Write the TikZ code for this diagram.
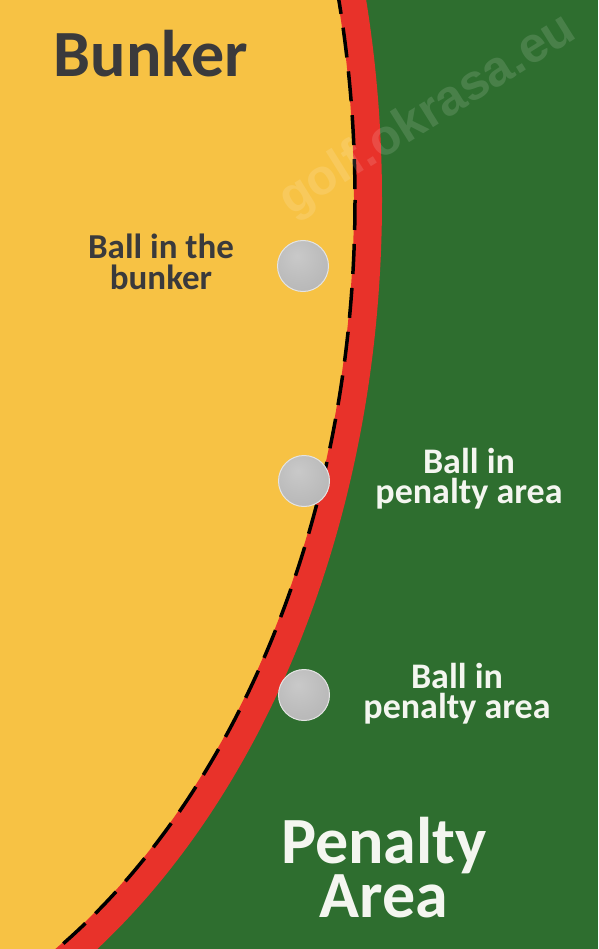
\documentclass[tikz,border=0pt]{standalone}
\usepackage{fontspec}
\setmainfont{Carlito}
\newfontfamily\wmfont{Liberation Sans}
\definecolor{sand}{HTML}{F7C244}
\definecolor{hazard}{HTML}{E8322A}
\definecolor{grass}{HTML}{2E6E2F}
\definecolor{darktext}{HTML}{3A3A3C}
\definecolor{wtext}{HTML}{F4F6F0}
\definecolor{ballA}{HTML}{C9C9C9}
\definecolor{ballB}{HTML}{BEBEBE}
\definecolor{ballC}{HTML}{B4B4B4}
\definecolor{ballD}{HTML}{E4E4E4}
\pgfdeclareradialshading{ballshade}{\pgfpoint{-6bp}{10bp}}{color(0bp)=(ballA); color(20bp)=(ballB); color(40bp)=(ballC); color(50bp)=(ballD); color(100bp)=(ballD)}
\tikzset{
  ball/.style={circle, minimum size=51pt, inner sep=0pt, shading=ballshade, draw=ballD, line width=1pt},
  darklabel/.style={font=\bfseries\fontsize{35}{32}\selectfont, text=darktext, align=center, inner sep=0pt, anchor=base},
  whitelabel/.style={font=\bfseries\fontsize{36}{30}\selectfont, text=wtext, align=center, inner sep=0pt, anchor=base},
}
\begin{document}
\begin{tikzpicture}[x=1pt,y=-1pt]
\useasboundingbox (0,0) rectangle (598,949);
% background
\fill[grass] (0,0) rectangle (598,949);
\begin{scope}
\clip (0,0) rectangle (598,949);
% bunker
\fill[sand] (-258,200) ellipse [x radius=626, y radius=886];
% penalty area line
\draw[hazard, line width=28pt] (-258,200) ellipse [x radius=626, y radius=886];
% bunker edge
\draw[black, line width=3.5pt, dash pattern=on 30pt off 14pt] (-258,200) ellipse [x radius=613, y radius=873];
\end{scope}
% watermark
\node[font=\wmfont\bfseries\fontsize{50}{50}\selectfont, text=white, opacity=0.13, rotate=32, inner sep=0pt] (wm) at (428,116) {golf.okrasa.eu};
% balls
\node[ball] (b1) at (303,266) {};
\node[ball] (b2) at (304,481) {};
\node[ball] (b3) at (304,695) {};
% labels
\node[font=\bfseries\fontsize{66}{66}\selectfont, text=darktext, inner sep=0pt, anchor=base] (bunker) at (151,77) {Bunker};
\node[darklabel] (l1) at (161,290) {Ball in the\\bunker};
\node[whitelabel] (l2) at (469,503) {Ball in\\penalty area};
\node[whitelabel] (l3) at (457,718) {Ball in\\penalty area};
\node[font=\bfseries\fontsize{66}{54}\selectfont, text=wtext, align=center, inner sep=0pt, anchor=base] (pa) at (384,917) {Penalty\\Area};
\end{tikzpicture}
\end{document}
